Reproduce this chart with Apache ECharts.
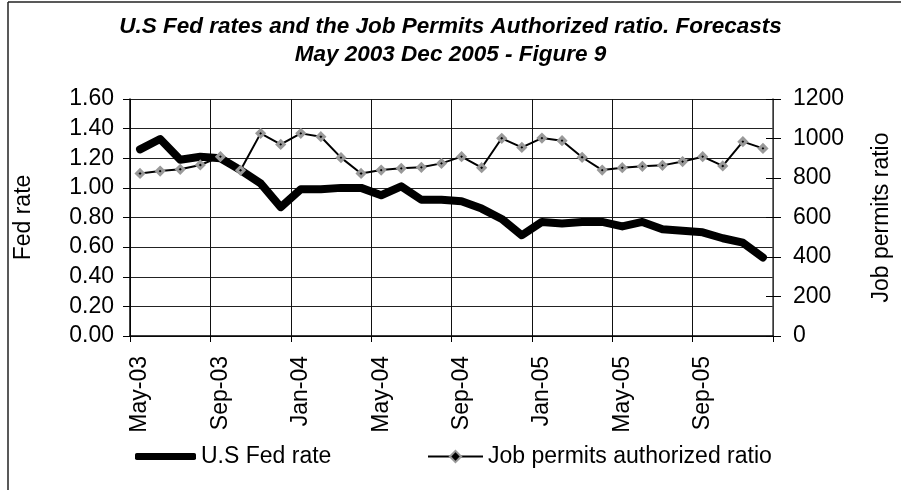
<!DOCTYPE html>
<html>
<head>
<meta charset="utf-8">
<script src="https://cdn.jsdelivr.net/npm/echarts@6/dist/echarts.min.js"></script>
<style>html,body{margin:0;padding:0;background:#fff;}#c{width:901px;height:490px;}</style>
</head>
<body>
<div id="c"></div>
<script>
const months = ['May-03','Jun-03','Jul-03','Aug-03','Sep-03','Oct-03','Nov-03','Dec-03',
  'Jan-04','Feb-04','Mar-04','Apr-04','May-04','Jun-04','Jul-04','Aug-04','Sep-04','Oct-04','Nov-04','Dec-04',
  'Jan-05','Feb-05','Mar-05','Apr-05','May-05','Jun-05','Jul-05','Aug-05','Sep-05','Oct-05','Nov-05','Dec-05'];
const fedRate = [1.26,1.33,1.19,1.21,1.20,1.12,1.03,0.87,0.99,0.99,1.00,1.00,0.95,1.01,0.92,0.92,
  0.91,0.86,0.79,0.68,0.77,0.76,0.77,0.77,0.74,0.77,0.72,0.71,0.70,0.66,0.63,0.53];
const jobPermits = [823,835,844,866,908,839,1026,970,1026,1009,903,823,840,849,854,874,
  908,852,1001,955,1002,989,905,840,852,859,864,883,908,861,984,950];
const leftTicks = {min:0, max:1.6, interval:0.2};
const rightTicks = {min:0, max:1200, interval:200};

const FONT = "'Liberation Sans', Arial, sans-serif";
const chart = echarts.init(document.getElementById('c'), null, {renderer:'canvas'});
chart.setOption({
  backgroundColor:'#fff',
  animation:false,
  title:{
    text:'U.S Fed rates and the Job Permits Authorized ratio. Forecasts\nMay 2003 Dec 2005 - Figure 9',
    left:'center', top:8,
    textStyle:{fontFamily:FONT, fontSize:22.5, fontWeight:'bold', fontStyle:'italic', color:'#000', lineHeight:28}
  },
  graphic:[
    {type:'line', shape:{x1:8,y1:2,x2:901,y2:2}, style:{stroke:'#222', lineWidth:1.5}},
    {type:'line', shape:{x1:8,y1:2,x2:8,y2:490}, style:{stroke:'#222', lineWidth:1.5}}
  ],
  legend:[
    {data:[{name:'U.S Fed rate', icon:'roundRect', itemStyle:{color:'#000'}}],
     left:130, top:440, itemWidth:61, itemHeight:7,
     textStyle:{fontFamily:FONT, fontSize:23, color:'#000'}},
    {data:['Job permits authorized ratio'], left:422, top:440, itemWidth:55, itemHeight:14,
     textStyle:{fontFamily:FONT, fontSize:23, color:'#000'}}
  ],
  grid:{left:130, right:118, top:99, bottom:154, containLabel:false},
  xAxis:{
    type:'category', data:months, boundaryGap:true,
    axisLine:{lineStyle:{color:'#000', width:1.5}},
    axisTick:{show:true, interval:3, length:6, lineStyle:{color:'#000'}},
    axisLabel:{interval:3, rotate:90, margin:20, fontFamily:FONT, fontSize:23, color:'#000'},
    splitLine:{show:true, interval:3, lineStyle:{color:'#111', width:1}}
  },
  yAxis:[
    {type:'value', position:'left', min:leftTicks.min, max:leftTicks.max, interval:leftTicks.interval,
     name:'Fed rate', nameLocation:'middle', nameGap:95,
     nameTextStyle:{fontFamily:FONT, fontSize:23, color:'#000'},
     axisLine:{show:true, lineStyle:{color:'#000', width:1.5}},
     axisTick:{show:true, length:7, lineStyle:{color:'#000'}},
     axisLabel:{margin:16, fontFamily:FONT, fontSize:23, color:'#000', formatter:v=>v.toFixed(2)},
     splitLine:{show:true, lineStyle:{color:'#222', width:1}}},
    {type:'value', position:'right', min:rightTicks.min, max:rightTicks.max, interval:rightTicks.interval,
     name:'Job permits ratio', nameLocation:'middle', nameGap:97,
     nameTextStyle:{fontFamily:FONT, fontSize:23, color:'#000'},
     axisLine:{show:true, lineStyle:{color:'#444', width:1.5}},
     axisTick:{show:true, length:8, lineStyle:{color:'#000'}},
     axisLabel:{margin:20, fontFamily:FONT, fontSize:23, color:'#000', formatter:v=>String(v)},
     splitLine:{show:false}},
    {type:'value', position:'right', min:rightTicks.min, max:rightTicks.max, interval:rightTicks.interval,
     axisLine:{show:false}, axisLabel:{show:false}, splitLine:{show:false},
     axisTick:{show:true, inside:true, length:7, lineStyle:{color:'#000'}}}
  ],
  series:[
    {name:'U.S Fed rate', type:'line', yAxisIndex:0, data:fedRate, symbol:'none',
     lineStyle:{color:'#000', width:8, cap:'round', join:'round'}, itemStyle:{color:'#000'}, z:3},
    {name:'Job permits authorized ratio', type:'line', yAxisIndex:1, data:jobPermits,
     symbol:'diamond', symbolSize:7,
     lineStyle:{color:'#000', width:2},
     itemStyle:{color:'#000', borderColor:'#999', borderWidth:3}, z:4}
  ]
});
</script>
</body>
</html>
